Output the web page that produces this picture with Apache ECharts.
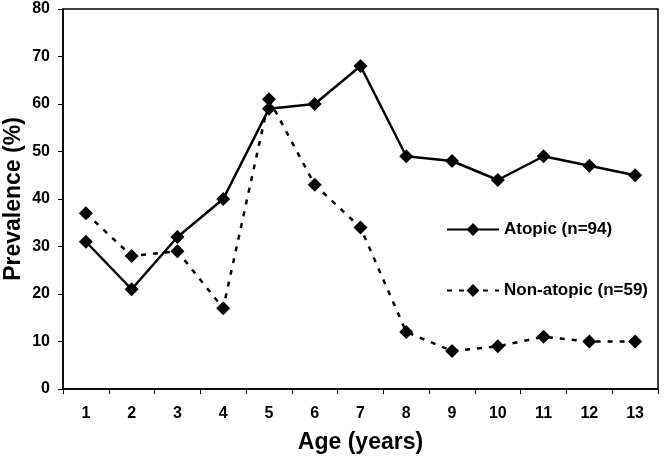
<!DOCTYPE html>
<html><head><meta charset="utf-8">
<script src="https://cdn.jsdelivr.net/npm/echarts@6/dist/echarts.min.js"></script>
<style>html,body{margin:0;padding:0;background:#fff}#c{width:670px;height:458px}</style>
</head><body><div id="c"></div>
<script>
const ages = ['1','2','3','4','5','6','7','8','9','10','11','12','13'];
const atopic = [31,21,32,40,59,60,68,49,48,44,49,47,45];
const nonAtopic = [37,28,29,17,61,43,34,12,8,9,11,10,10];
const yTicks = {min:0, max:80, interval:10};
const F = 'Liberation Sans, Arial, sans-serif';
const chart = echarts.init(document.getElementById('c'));
chart.setOption({
  animation:false,
  grid:{left:63,right:12,top:9,bottom:69,show:true,borderColor:'#000',borderWidth:1.5,
        containLabel:false,outerBoundsMode:'none'},
  legend:{
    orient:'vertical', left:441, top:216, itemGap:44, itemWidth:52, itemHeight:16,
    textStyle:{fontFamily:F,fontWeight:'bold',fontSize:17,color:'#000'},
    data:['Atopic (n=94)','Non-atopic (n=59)']
  },
  xAxis:{type:'category',data:ages,boundaryGap:true,
    name:'Age (years)',nameLocation:'middle',nameGap:42,nameMoveOverlap:false,
    nameTextStyle:{fontFamily:F,fontWeight:'bold',fontSize:23,color:'#000'},
    axisLine:{lineStyle:{color:'#000',width:1.5}},
    axisTick:{show:true,inside:false,length:5,alignWithLabel:false,lineStyle:{color:'#000'}},
    axisLabel:{fontFamily:F,fontWeight:'bold',fontSize:16,color:'#000',margin:17},
    splitLine:{show:false}},
  yAxis:{type:'value',min:yTicks.min,max:yTicks.max,interval:yTicks.interval,
    name:'Prevalence (%)',nameLocation:'middle',nameGap:38,nameMoveOverlap:false,
    nameTextStyle:{fontFamily:F,fontWeight:'bold',fontSize:23,color:'#000'},
    axisLine:{show:true,lineStyle:{color:'#000',width:1.5}},
    axisTick:{show:true,length:5,lineStyle:{color:'#000'}},
    axisLabel:{fontFamily:F,fontWeight:'bold',fontSize:16,color:'#000',margin:13},
    splitLine:{show:false}},
  series:[
    {name:'Atopic (n=94)',type:'line',data:atopic,symbol:'diamond',symbolSize:14,
     lineStyle:{color:'#000',width:2.5},itemStyle:{color:'#000'}},
    {name:'Non-atopic (n=59)',type:'line',data:nonAtopic,symbol:'diamond',symbolSize:14,
     lineStyle:{color:'#000',width:2.5,type:[5,7]},itemStyle:{color:'#000'}}
  ]
});
</script></body></html>
